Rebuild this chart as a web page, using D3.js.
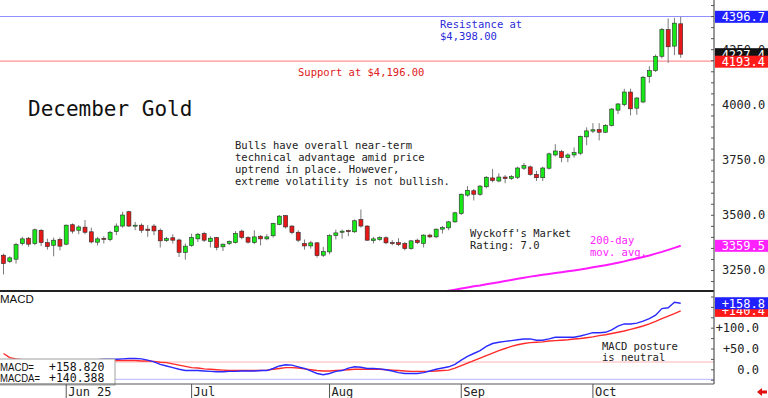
<!DOCTYPE html>
<html>
<head>
<meta charset="utf-8">
<script src="https://cdn.jsdelivr.net/npm/d3@7"></script>
<style>
body { margin: 0; background: #fff; }
svg { display: block; }
text { font-family: "DejaVu Sans Mono", monospace; }
</style>
</head>
<body>
<div id="chart"></div>
<script>
// daily candles, May 16 - Oct 21 2025 (trading days)
var openP  = [3317,3289,3299,3370,3394,3370,3430,3374,3362,3388,3367,3455,3430,3444,3423,3376,3393,3388,3424,3449,
              3514,3450,3453,3435,3449,3430,3383,3396,3386,3330,3361,3391,3415,3379,3397,3355,3370,3374,3426,3397,
              3374,3403,3391,3405,3456,3496,3449,3421,3370,3359,3373,3317,3332,3406,3421,3428,3423,3479,3449,3383,
              3388,3396,3374,3374,3370,3347,3385,3370,3408,3400,3435,3441,3468,3506,3589,3609,3593,3627,3667,3653,
              3671,3664,3670,3711,3717,3683,3668,3711,3771,3786,3759,3771,3779,3853,3879,3886,3874,3905,3974,3999,
              4056,3983,4011,4126,4153,4218,4339,4264,4365];
var highP  = [3324,3312,3373,3400,3400,3438,3435,3392,3397,3397,3456,3461,3453,3476,3442,3400,3403,3427,3461,3514,
              3518,3468,3461,3453,3458,3438,3400,3412,3392,3370,3415,3418,3423,3403,3400,3370,3384,3426,3433,3403,
              3430,3408,3412,3464,3499,3499,3453,3430,3388,3382,3377,3355,3412,3433,3433,3433,3479,3524,3453,3400,
              3403,3403,3385,3394,3377,3385,3392,3412,3415,3438,3449,3473,3514,3597,3630,3617,3635,3676,3708,3688,
              3680,3680,3718,3735,3723,3699,3718,3782,3820,3794,3779,3805,3859,3896,3915,3915,3911,3983,4006,4071,
              4071,4033,4129,4173,4226,4347,4389,4392,4397];
var lowP   = [3230,3282,3279,3361,3355,3362,3358,3342,3312,3339,3362,3415,3412,3412,3370,3361,3370,3380,3408,3442,
              3445,3430,3418,3400,3408,3352,3377,3370,3309,3297,3355,3377,3377,3352,3339,3336,3363,3370,3389,3370,
              3367,3361,3385,3397,3453,3438,3412,3376,3342,3347,3306,3309,3321,3388,3392,3403,3418,3442,3382,3370,
              3382,3367,3362,3358,3339,3342,3367,3352,3394,3394,3415,3430,3464,3499,3582,3565,3586,3620,3647,3647,
              3643,3658,3662,3703,3677,3653,3653,3705,3764,3738,3738,3759,3771,3815,3870,3837,3870,3900,3956,3991,
              3950,3953,4005,4097,4147,4208,4188,4223,4211];
var closeP = [3279,3305,3365,3391,3367,3432,3374,3356,3385,3358,3453,3426,3445,3421,3377,3391,3389,3421,3449,3499,
              3449,3453,3430,3429,3427,3382,3392,3385,3330,3358,3397,3412,3385,3394,3352,3367,3379,3415,3397,3376,
              3400,3391,3400,3461,3494,3445,3420,3385,3359,3373,3315,3333,3406,3418,3426,3424,3473,3449,3385,3391,
              3397,3373,3371,3365,3347,3382,3374,3408,3400,3435,3442,3468,3509,3593,3611,3593,3630,3670,3655,3671,
              3664,3673,3712,3723,3683,3668,3712,3776,3789,3759,3771,3782,3855,3880,3885,3874,3905,3979,4002,4056,
              3980,4029,4123,4153,4218,4339,4261,4368,4227.4];

// 200-day moving average, visible part (starts at candle 70)
var maStart = 70;
var ma200 = [3151,3156,3161,3166,3171,3176,3180,3185,3190,3195,3200,3205,3210,3215,3220,3224,3228,3232,3236,3240,
             3244,3248,3252,3257,3262,3267,3272,3277,3283,3289,3296,3302,3309,3316,3324,3332,3341,3350,3359.5];

var macdLine = [22,20,18,17,16,15,15,16,17,18,19,20,21,22,23,23,24,24,24,25,
                26,26,25,22,18,12,8,4,0,-3,-3,-3,-4,-5,-6,-6,-5,-5,-4,-4,
                -4,-3,-3,2,8,11,10,6,2,-4,-10,-13,-10,-5,-3,3,6,5,2,2,
                1,-1,-4,-8,-10,-10,-10,-8,-4,0,3,6,12,22,31,38,45,55,62,65,
                67,69,71,73,73,70,70,73,77,77,77,77,80,84,88,88,89,95,104,109,
                109,111,116,122,130,146,148,161,158.8];
var macdAvg = [38,28,25,23,22,21,20,20,20,20,20,20,20,20,21,21,21,21,21,21,
               21,21,20,20,19,17,16,13,10,7,4,3,1,0,-1,-2,-3,-3,-3,-3,
               -3,-3,-2,0,2,4,4,3,1,-1,-3,-4,-4,-3,-2,-1,0,0,0,0,
               0,-1,-2,-3,-4,-5,-5,-5,-5,-4,-3,-2,3,9,15,21,27,33,39,45,
               50,55,59,62,64,65,66,68,69,70,71,73,74,76,78,81,83,86,89,92,
               96,100,104,109,115,122,128,134,140.4];

var holidays = ["2025-05-26", "2025-06-19", "2025-07-04", "2025-09-01"];
var monthTicks = ["2025-06-02", "2025-07-01", "2025-08-01", "2025-09-02", "2025-10-01"];
var monthLabels = ["Jun 25", "Jul", "Aug", "Sep", "Oct"];
var priceTicks = [3250, 3500, 3750, 4000, 4250];
var macdTicks = [0, 50, 100];
var resistance = 4398, support = 4196;

var W = 768, H = 398;
var plotRight = 714, priceBottom = 291, macdTop = 292, macdBottom = 384;

var fmtDay = d3.timeFormat("%Y-%m-%d");
var days = d3.timeDay.range(new Date(2025, 4, 16), new Date(2025, 9, 22))
  .filter(function(d) { return d.getDay() > 0 && d.getDay() < 6 && holidays.indexOf(fmtDay(d)) < 0; })
  .map(fmtDay);

var candles = closeP.map(function(c, i) {
  return {i: i, date: days[i], o: openP[i], h: highP[i], l: lowP[i], c: c};
});

var svg = d3.select("#chart").append("svg")
  .attr("width", W).attr("height", H);

var x = d3.scaleLinear().domain([0, candles.length - 1]).range([3.5, 680.7]);
var y = d3.scaleLinear().domain([3250, 4000]).range([270, 104.4]);
var ym = d3.scaleLinear().domain([0, 100]).range([369.3, 327.7]);

var defs = svg.append("defs");
defs.append("clipPath").attr("id", "clipP").append("rect")
  .attr("x", 0).attr("y", 0).attr("width", plotRight).attr("height", priceBottom);
defs.append("clipPath").attr("id", "clipM").append("rect")
  .attr("x", 0).attr("y", macdTop).attr("width", plotRight).attr("height", macdBottom - macdTop);

// ---- price panel
var price = svg.append("g").attr("clip-path", "url(#clipP)");

price.append("line")
  .attr("x1", 0).attr("x2", plotRight)
  .attr("y1", y(resistance)).attr("y2", y(resistance))
  .attr("stroke", "#9090ff").attr("stroke-width", 1.2);
price.append("line")
  .attr("x1", 0).attr("x2", plotRight)
  .attr("y1", y(support)).attr("y2", y(support))
  .attr("stroke", "#ff9090").attr("stroke-width", 1.2);

var maData = ma200.map(function(v, k) { return {i: maStart + k, v: v}; });
price.append("path")
  .datum(maData)
  .attr("fill", "none")
  .attr("stroke", "#ff1aff")
  .attr("stroke-width", 2)
  .attr("d", d3.line().x(d => x(d.i)).y(d => y(d.v)));

var cg = price.append("g").selectAll("g")
  .data(candles)
  .enter().append("g");

cg.append("line")
  .attr("x1", d => x(d.i)).attr("x2", d => x(d.i))
  .attr("y1", d => y(d.h)).attr("y2", d => y(d.l))
  .attr("stroke", "#7a7a7a").attr("stroke-width", 1);

cg.append("rect")
  .attr("x", d => x(d.i) - 2)
  .attr("width", 4)
  .attr("y", d => y(Math.max(d.o, d.c)))
  .attr("height", d => Math.max(1, Math.abs(y(d.o) - y(d.c))))
  .attr("fill", d => d.c >= d.o ? "#18e818" : "#e81818")
  .attr("stroke", "#2a2a2a")
  .attr("stroke-width", 0.6);

// annotations
var notes = svg.append("g").style("font-size", "10.5px");
notes.append("text").attr("x", 440).attr("y", 28).attr("fill", "#2b2bd8").text("Resistance at");
notes.append("text").attr("x", 440).attr("y", 40).attr("fill", "#2b2bd8").text("$4,398.00");
notes.append("text").attr("x", 298).attr("y", 76).attr("fill", "#e02020").text("Support at $4,196.00");
["Bulls have overall near-term",
 "technical advantage amid price",
 "uptrend in place. However,",
 "extreme volatility is not bullish."].forEach(function(t, k) {
  notes.append("text").attr("x", 235).attr("y", 149 + k * 12).attr("fill", "#222").text(t);
});
notes.append("text").attr("x", 470).attr("y", 237).attr("fill", "#222").text("Wyckoff's Market");
notes.append("text").attr("x", 470).attr("y", 249).attr("fill", "#222").text("Rating: 7.0");
notes.append("text").attr("x", 590).attr("y", 244).attr("fill", "#ff22ff").text("200-day");
notes.append("text").attr("x", 590).attr("y", 256).attr("fill", "#ff22ff").text("mov. avg.");

svg.append("text")
  .attr("x", 28).attr("y", 116)
  .style("font-size", "21px")
  .attr("fill", "#111")
  .text("December Gold");

// ---- MACD panel
var mp = svg.append("g").attr("clip-path", "url(#clipM)");
mp.append("line")
  .attr("x1", 0).attr("x2", plotRight).attr("y1", ym(17.5)).attr("y2", ym(17.5))
  .attr("stroke", "#ffb4b4").attr("stroke-width", 1);
mp.append("line")
  .attr("x1", 0).attr("x2", plotRight).attr("y1", ym(-24)).attr("y2", ym(-24))
  .attr("stroke", "#c4c4ff").attr("stroke-width", 1.2);

var mline = d3.line().x((d, i) => x(i)).y(d => ym(d));
mp.append("path").datum(macdAvg)
  .attr("fill", "none").attr("stroke", "#ff2a2a").attr("stroke-width", 1.4)
  .attr("d", mline);
mp.append("path").datum(macdLine)
  .attr("fill", "none").attr("stroke", "#2a2aff").attr("stroke-width", 1.4)
  .attr("d", mline);

mp.append("text")
  .attr("x", 602).attr("y", 350).style("font-size", "10.5px").attr("fill", "#222")
  .text("MACD posture");
mp.append("text")
  .attr("x", 602).attr("y", 361).style("font-size", "10.5px").attr("fill", "#222")
  .text("is neutral");

svg.append("text")
  .attr("x", 0).attr("y", 303)
  .style("font-family", "'Liberation Sans', Arial, sans-serif")
  .style("font-size", "11.5px").attr("fill", "#111")
  .text("MACD");

// MACD legend box
var lg = svg.append("g");
lg.append("rect")
  .attr("x", -1).attr("y", 359).attr("width", 116).attr("height", 26)
  .attr("fill", "#fff").attr("stroke", "#a0a0a0");
[["MACD=", "+158.820", 34], ["MACDA=", "+140.388", 40]].forEach(function(r, k) {
  lg.append("text").attr("x", 0).attr("y", 371 + k * 11)
    .style("font-family", "'Liberation Sans', Arial, sans-serif")
    .style("font-size", "11px").attr("fill", "#111")
    .attr("textLength", r[2]).attr("lengthAdjust", "spacingAndGlyphs")
    .text(r[0]);
  lg.append("text").attr("x", 49).attr("y", 371 + k * 11)
    .style("font-size", "11.5px").attr("fill", "#111").text(r[1]);
});

// panel frames
svg.append("line")
  .attr("x1", 0).attr("x2", plotRight).attr("y1", priceBottom).attr("y2", priceBottom)
  .attr("stroke", "#222").attr("stroke-width", 2);
svg.append("line")
  .attr("x1", 0).attr("x2", plotRight).attr("y1", macdBottom).attr("y2", macdBottom)
  .attr("stroke", "#555").attr("stroke-width", 1.2);
svg.append("line")
  .attr("x1", plotRight).attr("x2", plotRight).attr("y1", 0).attr("y2", macdBottom)
  .attr("stroke", "#555").attr("stroke-width", 1.2);

// ---- right price axis
var minorP = d3.range(3150, 4451, 50);
svg.append("g")
  .attr("transform", "translate(" + plotRight + ",0)")
  .call(d3.axisLeft(y).tickValues(minorP.filter(v => y(v) > 2 && y(v) < priceBottom - 2)).tickSize(3).tickFormat(""))
  .call(g => g.select(".domain").remove())
  .call(g => g.selectAll("line").attr("stroke", "#555"));

svg.append("g")
  .attr("transform", "translate(" + plotRight + ",0)")
  .call(d3.axisRight(y).tickValues(priceTicks).tickSize(0).tickPadding(8).tickFormat(d3.format(".1f")))
  .call(g => g.select(".domain").remove())
  .call(g => g.selectAll("text")
    .style("font-family", "'DejaVu Sans Mono', monospace")
    .style("font-size", "12px").attr("fill", "#222"));

// ---- right MACD axis
svg.append("g")
  .attr("transform", "translate(" + plotRight + ",0)")
  .call(d3.axisLeft(ym).tickValues(d3.range(-25, 176, 25)).tickSize(3).tickFormat(""))
  .call(g => g.select(".domain").remove())
  .call(g => g.selectAll("line").attr("stroke", "#555"));

svg.append("g")
  .attr("transform", "translate(759,0)")
  .call(d3.axisLeft(ym).tickValues(macdTicks).tickSize(0).tickPadding(0)
    .tickFormat(d => d === 0 ? "0.0" : "+" + d3.format(".1f")(d)))
  .call(g => g.select(".domain").remove())
  .call(g => g.selectAll("text")
    .style("font-family", "'DejaVu Sans Mono', monospace")
    .style("font-size", "12px").attr("fill", "#222"));

// current value tags
function tag(yPos, label, bg) {
  var g = svg.append("g");
  g.append("rect").attr("x", plotRight + 1).attr("y", yPos - 6)
    .attr("width", W - plotRight - 1).attr("height", 12).attr("fill", bg);
  g.append("text").attr("x", 765).attr("y", yPos + 4.5)
    .attr("text-anchor", "end")
    .style("font-size", "12px").attr("fill", "#fff").text(label);
}
tag(y(4396.7), "4396.7", "#1f1fff");
tag(y(closeP[closeP.length - 1]), "4227.4", "#111");
tag(y(4193.4), "4193.4", "#ff1a1a");
tag(y(ma200[ma200.length - 1]), "3359.5", "#ff22ff");
tag(ym(macdAvg[macdAvg.length - 1]), "+140.4", "#ff1a1a");
tag(ym(macdLine[macdLine.length - 1]), "+158.8", "#1f1fff");

// ---- month axis along the bottom
var mx = svg.append("g");
monthTicks.forEach(function(d, k) {
  var xi = x(days.indexOf(d));
  mx.append("line")
    .attr("x1", xi).attr("x2", xi).attr("y1", macdBottom).attr("y2", H)
    .attr("stroke", "#555");
  mx.append("text")
    .attr("x", xi + 2).attr("y", 396)
    .style("font-size", "12px").attr("fill", "#222")
    .text(monthLabels[k]);
});

// small red arrow bottom right
svg.append("path")
  .attr("d", "M757,392 L762,388 L762,390.5 L767,390.5 L767,393.5 L762,393.5 L762,396 Z")
  .attr("fill", "#e01010");
</script>
</body>
</html>
